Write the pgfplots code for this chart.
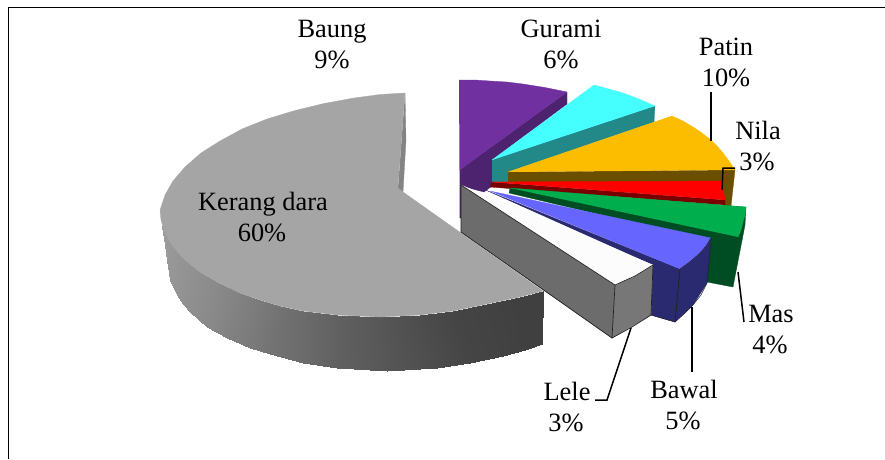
\documentclass[border=0pt]{standalone}
\usepackage{fontspec}
\setmainfont{Liberation Serif}
\usepackage{pgfplots}
\pgfplotsset{compat=1.18}
\definecolor{kerangtop}{HTML}{A5A5A5}
\definecolor{kerangin}{HTML}{848484}
\definecolor{baung}{HTML}{7030A0}
\definecolor{baungd}{HTML}{4D2370}
\definecolor{gurami}{HTML}{45FFFF}
\definecolor{guramid}{HTML}{238888}
\definecolor{patin}{HTML}{FCBC00}
\definecolor{patind}{HTML}{6B4F00}
\definecolor{nila}{HTML}{FF0000}
\definecolor{nilad}{HTML}{780000}
\definecolor{mas}{HTML}{00AE4D}
\definecolor{masd}{HTML}{004D24}
\definecolor{bawal}{HTML}{6666FF}
\definecolor{bawald}{HTML}{2A2A70}
\definecolor{lele}{HTML}{FCFCFC}
\definecolor{leled}{HTML}{6C6C6C}
\definecolor{leler}{HTML}{777777}
\definecolor{edge}{HTML}{222222}
\newcommand{\lbl}[4]{\node[anchor=base,align=center,inner sep=0pt] at (axis cs:#1,#2) {\strut\fontsize{26.4}{30}\selectfont #4\vphantom{#3}};}
\pgfplotsset{
  wedge/.style={draw=#1,fill=#1,line width=0.3pt,no marks,line join=round},
  ridge/.style={draw=edge,line width=0.7pt,no marks,line join=round},
  leader/.style={draw=black,line width=1.5pt,no marks,line join=miter},
}
\begin{document}
\begin{tikzpicture}
\begin{axis}[
  scale only axis, width=885pt, height=459pt,
  xmin=0, xmax=885, ymin=0, ymax=459, y dir=reverse,
  hide axis, clip=true,
  colormap/blackwhite, point meta min=0, point meta max=1,
]
\path (axis cs:0,0) rectangle (axis cs:885,459);

% frame on the top and left
\addplot[draw=black,line width=1.3pt,no marks] coordinates {(885,7.5) (8.5,7.5) (8.5,459)};

% Kerang dara: outer wall, shaded from light to dark
\addplot[surf,shader=interp,mesh/rows=2,point meta=explicit] coordinates {
 (161,224) [0.61] (164,230) [0.61] (170,242) [0.60] (176,250) [0.59] (183,258) [0.58] (191,265) [0.57] (200,272) [0.56] (217,282) [0.54] (240,293) [0.51] (260,300) [0.48] (280,306) [0.45] (303,311) [0.42] (337,315) [0.38] (380,317) [0.34] (420,315) [0.30] (453,311) [0.27] (487,304) [0.26] (520,297) [0.25] (543,291) [0.25]
 (162,226) [0.61] (165,245) [0.61] (167,260) [0.60] (170,280) [0.59] (177,295) [0.58] (183,304) [0.57] (190,312) [0.56] (207,327) [0.54] (227,338) [0.51] (250,348) [0.48] (270,354) [0.45] (303,363) [0.42] (337,368) [0.38] (387,371) [0.34] (437,368) [0.30] (470,363) [0.27] (503,356) [0.26] (525,350) [0.25] (542,344) [0.25]
};
% Kerang dara: inner cut and top face
\addplot[wedge=kerangin] coordinates {(405,93) (406,140) (403,192) (398,188)};
\addplot[wedge=kerangtop] coordinates {
 (405,93) (380,94.5) (354,98) (324,103.5) (295,110.5) (267,119) (242,129) (220,141) (201,153) (185,167) (173,181) (165,195) (160,210)
 (161,220) (164,230) (170,242) (176,250) (183,258) (191,265) (200,272) (217,282) (240,293) (260,300) (280,306) (303,311)
 (337,315) (380,317) (420,315) (453,311) (487,304) (520,297) (543,291) (403,192) (398,188)};

% Baung
\addplot[wedge=baungd] coordinates {(459.5,170) (567,92) (567,104) (492,160) (492,186) (484,192) (461,186) (461,218) (459.5,218)};
\addplot[wedge=baung] coordinates {(459,80) (475,80) (490,81) (507,82) (523,84) (545,87.5) (567,92) (459.5,170)};

% Gurami
\addplot[wedge=guramid] coordinates {(492,160) (655,106) (654,122) (508,172) (508,182) (492,182)};
\addplot[wedge=gurami] coordinates {(492,160) (594,85) (609,89) (623,93) (639,99) (655,106)};

% Patin
\addplot[wedge=patind] coordinates {(508,172) (735,170) (731,206) (722,206) (722,182) (508,182)};
\addplot[wedge=patin] coordinates {(508,172) (672,116) (683,121) (693,127) (702,133) (711,140) (718,147) (723,153) (729,161) (735,170)};

% Nila
\addplot[wedge=nilad] coordinates {(491,182) (725,200) (725,205) (490,187)};
\addplot[wedge=nila] coordinates {(491,182) (722,181) (725,200)};

% Mas
\addplot[wedge=masd] coordinates {(510,188) (509,193) (707,240) (707,282) (733,287) (745,225) (746,207)};
\addplot[wedge=mas] coordinates {(510,188) (746,207) (745,215) (743,222) (741,230) (738,237)};

% Bawal
\addplot[wedge=bawald] coordinates {(483,189) (680,269) (711,238) (709,262) (707,283) (693,305) (675,322) (651,315) (653,265)};
\addplot[wedge=bawal] coordinates {(490,191) (711,238) (706,246) (700,253) (691,261) (680,269)};
\addplot[ridge] coordinates {(680,269) (675,322)};
\addplot[draw=edge,line width=0.5pt,no marks] coordinates {(680,269) (691,261) (700,253) (706,246) (711,238) (709,262) (707,283) (701,295) (693,305) (684,314) (675,322) (651,315)};

% Lele
\addplot[wedge=leled] coordinates {(461,185) (615,285) (612,338) (461,232)};
\addplot[wedge=leler] coordinates {(615,285) (653,265) (651,315) (612,338)};
\addplot[wedge=lele] coordinates {(461,185) (653,265) (635,276) (615,285)};
\addplot[ridge] coordinates {(461,185) (615,285) (635,276) (653,265) (651,315) (632,327) (612,338) (461,232) (461,185)};
\addplot[ridge] coordinates {(615,285) (612,338)};

% leader lines
\addplot[leader] coordinates {(711,92) (711,141)};
\addplot[leader] coordinates {(735,168) (723,168) (722,190)};
\addplot[leader] coordinates {(738,272) (744,322)};
\addplot[leader] coordinates {(692,307) (692,372)};
\addplot[leader] coordinates {(631,328) (607,400) (595,400)};

% labels
\lbl{332}{37}{Bg}{Baung}
\lbl{332}{68}{9}{9\%}
\lbl{561}{37}{Gg}{Gurami}
\lbl{561}{68}{6}{6\%}
\lbl{726}{55}{P}{Patin}
\lbl{726}{86}{1}{10\%}
\lbl{758}{139}{N}{Nila}
\lbl{757}{170}{3}{3\%}
\lbl{263}{210}{Kg}{Kerang dara}
\lbl{262}{241}{6}{60\%}
\lbl{771}{322}{M}{Mas}
\lbl{770}{353}{4}{4\%}
\lbl{684}{398}{B}{Bawal}
\lbl{683}{429}{5}{5\%}
\lbl{567}{400}{L}{Lele}
\lbl{566}{431}{3}{3\%}
\end{axis}
\end{tikzpicture}
\end{document}
